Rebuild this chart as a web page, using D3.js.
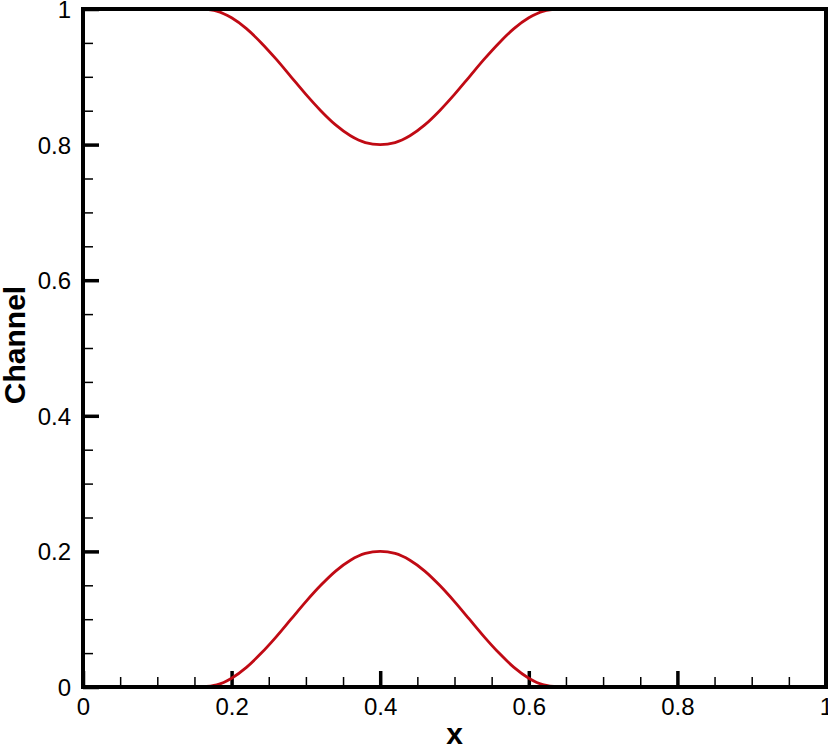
<!DOCTYPE html>
<html>
<head>
<meta charset="utf-8">
<script src="https://cdn.jsdelivr.net/npm/d3@7"></script>
<style>
  body { margin: 0; background: #fff; }
  svg { display: block; font-family: "Liberation Sans", Arial, sans-serif; }
</style>
</head>
<body>
<svg id="chart" width="828" height="745"></svg>
<script>
// wall shape
var xs = [0.16, 0.18, 0.20, 0.22, 0.24, 0.26, 0.28, 0.30, 0.32, 0.34, 0.36, 0.38, 0.40,
          0.42, 0.44, 0.46, 0.48, 0.50, 0.52, 0.54, 0.56, 0.58, 0.60, 0.62, 0.64];
var lowerWall = [0, 0.003, 0.013, 0.029, 0.05, 0.074, 0.1, 0.126, 0.15, 0.171, 0.187, 0.197, 0.2,
                 0.197, 0.187, 0.171, 0.15, 0.126, 0.1, 0.074, 0.05, 0.029, 0.013, 0.003, 0];
var upperWall = [1, 0.997, 0.987, 0.971, 0.95, 0.926, 0.9, 0.874, 0.85, 0.829, 0.813, 0.803, 0.8,
                 0.803, 0.813, 0.829, 0.85, 0.874, 0.9, 0.926, 0.95, 0.971, 0.987, 0.997, 1];

var majorTicks = [0, 0.2, 0.4, 0.6, 0.8, 1];
var tickLabels = ["0", "0.2", "0.4", "0.6", "0.8", "1"];
var minorTicks = [0.05, 0.1, 0.15, 0.25, 0.3, 0.35, 0.45, 0.5, 0.55, 0.65, 0.7, 0.75, 0.85, 0.9, 0.95];

var svg = d3.select("#chart");
// plot box edges (don't call it "top", that's window.top)
var pLeft = 83, pRight = 826, pTop = 9, pBottom = 687;

var x = d3.scaleLinear().domain([0, 1]).range([pLeft, pRight]);
var y = d3.scaleLinear().domain([0, 1]).range([pBottom, pTop]);

// minor ticks (inward)
var xMinor = d3.axisBottom(x).tickValues(minorTicks).tickSize(-10).tickFormat("");
var yMinor = d3.axisLeft(y).tickValues(minorTicks).tickSize(-10).tickFormat("");
svg.append("g").attr("transform", "translate(0," + pBottom + ")").call(xMinor);
svg.append("g").attr("transform", "translate(" + pLeft + ",0)").call(yMinor);

// major ticks with labels
var xAxis = d3.axisBottom(x).tickValues(majorTicks).tickSize(-16).tickPadding(11)
  .tickFormat(function(d, i) { return tickLabels[i]; });
var yAxis = d3.axisLeft(y).tickValues(majorTicks).tickSize(-16).tickPadding(12)
  .tickFormat(function(d, i) { return tickLabels[i]; });
var gx = svg.append("g").attr("class", "major").attr("transform", "translate(0," + pBottom + ")").call(xAxis);
var gy = svg.append("g").attr("class", "major").attr("transform", "translate(" + pLeft + ",0)").call(yAxis);

svg.selectAll(".domain").remove();
svg.selectAll(".tick line").attr("stroke", "#000").attr("stroke-width", 1.5);
svg.selectAll(".major .tick line").attr("stroke-width", 3.5);
svg.selectAll(".tick text").attr("font-size", 24).attr("font-family", "Liberation Sans, Arial, sans-serif").attr("fill", "#000");
gx.selectAll(".tick text").attr("dy", null).attr("y", 28);
gy.selectAll(".tick text").attr("dy", null).attr("y", 8.5);

// curves
var line = d3.line()
  .x(function(d) { return x(d[0]); })
  .y(function(d) { return y(d[1]); })
  .curve(d3.curveMonotoneX);

[lowerWall, upperWall].forEach(function(vals) {
  svg.append("path")
    .datum(xs.map(function(v, i) { return [v, vals[i]]; }))
    .attr("d", line)
    .attr("fill", "none")
    .attr("stroke", "#c00a14")
    .attr("stroke-width", 2.8);
});

// frame
svg.append("rect")
  .attr("x", pLeft).attr("y", pTop)
  .attr("width", pRight - pLeft).attr("height", pBottom - pTop)
  .attr("fill", "none").attr("stroke", "#000").attr("stroke-width", 4);

// axis titles
svg.append("text")
  .attr("x", (pLeft + pRight) / 2).attr("y", 744)
  .attr("text-anchor", "middle")
  .attr("font-size", 30).attr("font-weight", "bold")
  .text("x");

svg.append("text")
  .attr("transform", "translate(25,345) rotate(-90)")
  .attr("text-anchor", "middle")
  .attr("font-size", 30).attr("font-weight", "bold")
  .text("Channel");
</script>
</body>
</html>
